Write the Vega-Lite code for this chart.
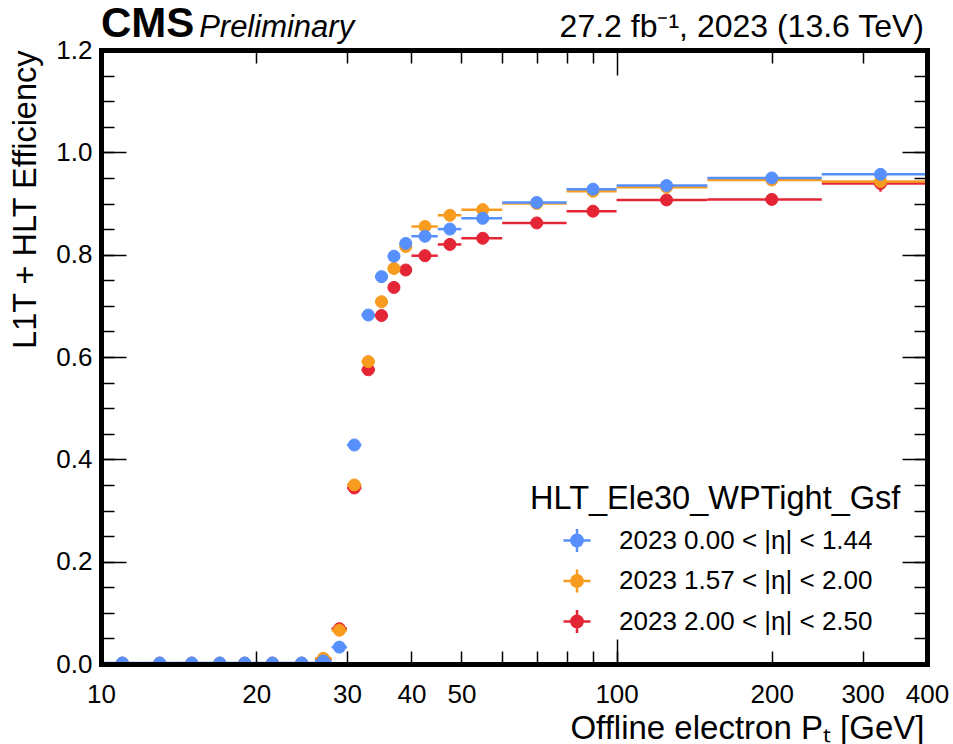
{
  "$schema": "https://vega.github.io/schema/vega-lite/v6.json",
  "width": 826,
  "height": 614,
  "autosize": "none",
  "padding": {"left": 101, "top": 50, "right": 26, "bottom": 80},
  "background": "white",
  "config": {
    "font": "Liberation Sans",
    "view": {"stroke": null},
    "axis": {"grid": false, "tickColor": "black", "tickWidth": 1.5, "labelColor": "black", "titleColor": "black", "domainColor": "black"},
    "legend": {"orient": "none", "legendX": 429, "legendY": 433, "titleFontSize": 32.5, "titleFontWeight": "normal", "titleColor": "black", "titleLimit": 600, "titlePadding": 10,
      "labelFontSize": 26, "labelColor": "black", "labelLimit": 500, "labelOffset": 27, "symbolOffset": 32, "rowPadding": 6.5,
      "symbolType": "M-1,0H1M0,-0.85V0.85M0.42,0A0.42,0.42,0,1,1,-0.42,0A0.42,0.42,0,1,1,0.42,0Z", "symbolSize": 729, "symbolStrokeWidth": 2.5}
  },
  "datasets": {
    "pts": [
      {"s": "2023 2.00 < |η| < 2.50", "lo": 10, "hi": 12, "x": 11, "y": 0.0015},
      {"s": "2023 2.00 < |η| < 2.50", "lo": 12, "hi": 14, "x": 13, "y": 0.0015},
      {"s": "2023 2.00 < |η| < 2.50", "lo": 14, "hi": 16, "x": 15, "y": 0.0015},
      {"s": "2023 2.00 < |η| < 2.50", "lo": 16, "hi": 18, "x": 17, "y": 0.0015},
      {"s": "2023 2.00 < |η| < 2.50", "lo": 18, "hi": 20, "x": 19, "y": 0.0015},
      {"s": "2023 2.00 < |η| < 2.50", "lo": 20, "hi": 23, "x": 21.5, "y": 0.0015},
      {"s": "2023 2.00 < |η| < 2.50", "lo": 23, "hi": 26, "x": 24.5, "y": 0.0015},
      {"s": "2023 2.00 < |η| < 2.50", "lo": 26, "hi": 28, "x": 27, "y": 0.010},
      {"s": "2023 2.00 < |η| < 2.50", "lo": 28, "hi": 30, "x": 29, "y": 0.069},
      {"s": "2023 2.00 < |η| < 2.50", "lo": 30, "hi": 32, "x": 31, "y": 0.344},
      {"s": "2023 2.00 < |η| < 2.50", "lo": 32, "hi": 34, "x": 33, "y": 0.575},
      {"s": "2023 2.00 < |η| < 2.50", "lo": 34, "hi": 36, "x": 35, "y": 0.681},
      {"s": "2023 2.00 < |η| < 2.50", "lo": 36, "hi": 38, "x": 37, "y": 0.736},
      {"s": "2023 2.00 < |η| < 2.50", "lo": 38, "hi": 40, "x": 39, "y": 0.770},
      {"s": "2023 2.00 < |η| < 2.50", "lo": 40, "hi": 45, "x": 42.5, "y": 0.798},
      {"s": "2023 2.00 < |η| < 2.50", "lo": 45, "hi": 50, "x": 47.5, "y": 0.820},
      {"s": "2023 2.00 < |η| < 2.50", "lo": 50, "hi": 60, "x": 55, "y": 0.832},
      {"s": "2023 2.00 < |η| < 2.50", "lo": 60, "hi": 80, "x": 70, "y": 0.862},
      {"s": "2023 2.00 < |η| < 2.50", "lo": 80, "hi": 100, "x": 90, "y": 0.885},
      {"s": "2023 2.00 < |η| < 2.50", "lo": 100, "hi": 150, "x": 125, "y": 0.907},
      {"s": "2023 2.00 < |η| < 2.50", "lo": 150, "hi": 250, "x": 200, "y": 0.908},
      {"s": "2023 2.00 < |η| < 2.50", "lo": 250, "hi": 400, "x": 325, "y": 0.939, "elo": 0.923, "ehi": 0.955},
      {"s": "2023 1.57 < |η| < 2.00", "lo": 10, "hi": 12, "x": 11, "y": 0.0015},
      {"s": "2023 1.57 < |η| < 2.00", "lo": 12, "hi": 14, "x": 13, "y": 0.0015},
      {"s": "2023 1.57 < |η| < 2.00", "lo": 14, "hi": 16, "x": 15, "y": 0.0015},
      {"s": "2023 1.57 < |η| < 2.00", "lo": 16, "hi": 18, "x": 17, "y": 0.0015},
      {"s": "2023 1.57 < |η| < 2.00", "lo": 18, "hi": 20, "x": 19, "y": 0.0015},
      {"s": "2023 1.57 < |η| < 2.00", "lo": 20, "hi": 23, "x": 21.5, "y": 0.0015},
      {"s": "2023 1.57 < |η| < 2.00", "lo": 23, "hi": 26, "x": 24.5, "y": 0.0015},
      {"s": "2023 1.57 < |η| < 2.00", "lo": 26, "hi": 28, "x": 27, "y": 0.011},
      {"s": "2023 1.57 < |η| < 2.00", "lo": 28, "hi": 30, "x": 29, "y": 0.066},
      {"s": "2023 1.57 < |η| < 2.00", "lo": 30, "hi": 32, "x": 31, "y": 0.350},
      {"s": "2023 1.57 < |η| < 2.00", "lo": 32, "hi": 34, "x": 33, "y": 0.591},
      {"s": "2023 1.57 < |η| < 2.00", "lo": 34, "hi": 36, "x": 35, "y": 0.708},
      {"s": "2023 1.57 < |η| < 2.00", "lo": 36, "hi": 38, "x": 37, "y": 0.773},
      {"s": "2023 1.57 < |η| < 2.00", "lo": 38, "hi": 40, "x": 39, "y": 0.816},
      {"s": "2023 1.57 < |η| < 2.00", "lo": 40, "hi": 45, "x": 42.5, "y": 0.855},
      {"s": "2023 1.57 < |η| < 2.00", "lo": 45, "hi": 50, "x": 47.5, "y": 0.877},
      {"s": "2023 1.57 < |η| < 2.00", "lo": 50, "hi": 60, "x": 55, "y": 0.888},
      {"s": "2023 1.57 < |η| < 2.00", "lo": 60, "hi": 80, "x": 70, "y": 0.900},
      {"s": "2023 1.57 < |η| < 2.00", "lo": 80, "hi": 100, "x": 90, "y": 0.924},
      {"s": "2023 1.57 < |η| < 2.00", "lo": 100, "hi": 150, "x": 125, "y": 0.932},
      {"s": "2023 1.57 < |η| < 2.00", "lo": 150, "hi": 250, "x": 200, "y": 0.946},
      {"s": "2023 1.57 < |η| < 2.00", "lo": 250, "hi": 400, "x": 325, "y": 0.943, "elo": 0.935, "ehi": 0.951},
      {"s": "2023 0.00 < |η| < 1.44", "lo": 10, "hi": 12, "x": 11, "y": 0.002},
      {"s": "2023 0.00 < |η| < 1.44", "lo": 12, "hi": 14, "x": 13, "y": 0.002},
      {"s": "2023 0.00 < |η| < 1.44", "lo": 14, "hi": 16, "x": 15, "y": 0.002},
      {"s": "2023 0.00 < |η| < 1.44", "lo": 16, "hi": 18, "x": 17, "y": 0.002},
      {"s": "2023 0.00 < |η| < 1.44", "lo": 18, "hi": 20, "x": 19, "y": 0.002},
      {"s": "2023 0.00 < |η| < 1.44", "lo": 20, "hi": 23, "x": 21.5, "y": 0.002},
      {"s": "2023 0.00 < |η| < 1.44", "lo": 23, "hi": 26, "x": 24.5, "y": 0.002},
      {"s": "2023 0.00 < |η| < 1.44", "lo": 26, "hi": 28, "x": 27, "y": 0.006},
      {"s": "2023 0.00 < |η| < 1.44", "lo": 28, "hi": 30, "x": 29, "y": 0.033},
      {"s": "2023 0.00 < |η| < 1.44", "lo": 30, "hi": 32, "x": 31, "y": 0.428},
      {"s": "2023 0.00 < |η| < 1.44", "lo": 32, "hi": 34, "x": 33, "y": 0.682},
      {"s": "2023 0.00 < |η| < 1.44", "lo": 34, "hi": 36, "x": 35, "y": 0.757},
      {"s": "2023 0.00 < |η| < 1.44", "lo": 36, "hi": 38, "x": 37, "y": 0.797},
      {"s": "2023 0.00 < |η| < 1.44", "lo": 38, "hi": 40, "x": 39, "y": 0.822},
      {"s": "2023 0.00 < |η| < 1.44", "lo": 40, "hi": 45, "x": 42.5, "y": 0.836},
      {"s": "2023 0.00 < |η| < 1.44", "lo": 45, "hi": 50, "x": 47.5, "y": 0.850},
      {"s": "2023 0.00 < |η| < 1.44", "lo": 50, "hi": 60, "x": 55, "y": 0.871},
      {"s": "2023 0.00 < |η| < 1.44", "lo": 60, "hi": 80, "x": 70, "y": 0.902},
      {"s": "2023 0.00 < |η| < 1.44", "lo": 80, "hi": 100, "x": 90, "y": 0.928},
      {"s": "2023 0.00 < |η| < 1.44", "lo": 100, "hi": 150, "x": 125, "y": 0.935},
      {"s": "2023 0.00 < |η| < 1.44", "lo": 150, "hi": 250, "x": 200, "y": 0.950},
      {"s": "2023 0.00 < |η| < 1.44", "lo": 250, "hi": 400, "x": 325, "y": 0.957}
    ]
  },
  "data": {"name": "pts"},
  "resolve": {"axis": {"x": "independent", "y": "independent"}},
  "layer": [
    {
      "mark": {"type": "rule", "strokeWidth": 2.5, "clip": true},
      "encoding": {
        "x": {"field": "lo", "type": "quantitative", "scale": {"type": "log", "domain": [10, 400], "nice": false}, "axis": null},
        "x2": {"field": "hi"},
        "y": {"field": "y", "type": "quantitative", "scale": {"domain": [0, 1.2], "nice": false, "zero": false}, "axis": null},
        "stroke": {"field": "s", "type": "nominal", "scale": {"domain": ["2023 0.00 < |η| < 1.44", "2023 1.57 < |η| < 2.00", "2023 2.00 < |η| < 2.50"], "range": ["#5790fc", "#f89c20", "#e42536"]}, "title": "HLT_Ele30_WPTight_Gsf"}
      }
    },
    {
      "transform": [{"filter": "isValid(datum.elo)"}],
      "mark": {"type": "rule", "strokeWidth": 2.5, "clip": true},
      "encoding": {
        "x": {"field": "x", "type": "quantitative", "scale": {"type": "log", "domain": [10, 400], "nice": false}, "axis": null},
        "y": {"field": "elo", "type": "quantitative", "scale": {"domain": [0, 1.2], "nice": false, "zero": false}, "axis": null},
        "y2": {"field": "ehi"},
        "stroke": {"field": "s", "type": "nominal", "scale": {"domain": ["2023 0.00 < |η| < 1.44", "2023 1.57 < |η| < 2.00", "2023 2.00 < |η| < 2.50"], "range": ["#5790fc", "#f89c20", "#e42536"]}, "title": "HLT_Ele30_WPTight_Gsf"}
      }
    },
    {
      "mark": {"type": "point", "shape": "circle", "filled": true, "opacity": 1, "size": 145, "strokeWidth": 1, "clip": true},
      "encoding": {
        "x": {
          "field": "x", "type": "quantitative",
          "scale": {"type": "log", "domain": [10, 400], "nice": false},
          "axis": {
            "orient": "bottom",
            "values": [10, 20, 30, 40, 50, 60, 70, 80, 90, 100, 200, 300, 400],
            "labelExpr": "indexof([60, 70, 80, 90], datum.value) >= 0 ? '' : format(datum.value, 'd')",
            "tickSize": -13, "labelPadding": 30, "labelFontSize": 26, "labelFlush": false, "labelOverlap": false, "labelBound": false,
            "domain": true, "domainWidth": 5, "domainCap": "square", "zindex": 1,
            "title": "Offline electron Pₜ [GeV]", "titleFontSize": 33, "titleFontWeight": "normal",
            "titleAnchor": "end", "titleAlign": "right", "titleBaseline": "alphabetic", "titleX": 823, "titleY": 74
          }
        },
        "y": {
          "field": "y", "type": "quantitative",
          "scale": {"domain": [0, 1.2], "nice": false, "zero": false},
          "axis": {
            "orient": "left",
            "values": [0, 0.05, 0.1, 0.15, 0.2, 0.25, 0.3, 0.35, 0.4, 0.45, 0.5, 0.55, 0.6, 0.65, 0.7, 0.75, 0.8, 0.85, 0.9, 0.95, 1, 1.05, 1.1, 1.15, 1.2],
            "labelExpr": "abs(datum.value * 5 - round(datum.value * 5)) < 0.001 ? format(datum.value, '.1f') : ''",
            "tickSize": -13, "labelPadding": 22, "labelFontSize": 26, "labelFlush": false, "labelOverlap": false, "labelBound": false,
            "domain": true, "domainWidth": 5, "domainCap": "square", "zindex": 1,
            "title": "L1T + HLT Efficiency", "titleFontSize": 32.5, "titleFontWeight": "normal",
            "titleAngle": -90, "titleAnchor": "end", "titleAlign": "right", "titleBaseline": "alphabetic", "titleX": -66, "titleY": 0
          }
        },
        "fill": {"field": "s", "type": "nominal", "scale": {"domain": ["2023 0.00 < |η| < 1.44", "2023 1.57 < |η| < 2.00", "2023 2.00 < |η| < 2.50"], "range": ["#5790fc", "#f89c20", "#e42536"]}, "title": "HLT_Ele30_WPTight_Gsf"},
        "stroke": {"field": "s", "type": "nominal", "scale": {"domain": ["2023 0.00 < |η| < 1.44", "2023 1.57 < |η| < 2.00", "2023 2.00 < |η| < 2.50"], "range": ["#5790fc", "#f89c20", "#e42536"]}, "title": "HLT_Ele30_WPTight_Gsf"}
      }
    },
    {
      "mark": {"type": "point", "opacity": 0},
      "encoding": {
        "x": {"field": "x", "type": "quantitative", "scale": {"type": "log", "domain": [10, 400], "nice": false},
          "axis": {"orient": "bottom", "values": [10, 100], "tickSize": -25, "labels": false, "domain": false, "title": null, "zindex": 1}},
        "y": {"field": "y", "type": "quantitative", "scale": {"domain": [0, 1.2], "nice": false, "zero": false},
          "axis": {"orient": "left", "values": [0, 0.2, 0.4, 0.6, 0.8, 1, 1.2], "tickSize": -25, "labels": false, "domain": false, "title": null, "zindex": 1}}
      }
    },
    {
      "mark": {"type": "point", "opacity": 0},
      "encoding": {
        "x": {"field": "x", "type": "quantitative", "scale": {"type": "log", "domain": [10, 400], "nice": false},
          "axis": {"orient": "top", "values": [20, 30, 40, 50, 60, 70, 80, 90, 200, 300, 400], "tickSize": -13, "labels": false, "domain": true, "domainWidth": 5, "domainCap": "square", "title": null, "zindex": 1}},
        "y": {"field": "y", "type": "quantitative", "scale": {"domain": [0, 1.2], "nice": false, "zero": false},
          "axis": {"orient": "right", "values": [0, 0.05, 0.1, 0.15, 0.2, 0.25, 0.3, 0.35, 0.4, 0.45, 0.5, 0.55, 0.6, 0.65, 0.7, 0.75, 0.8, 0.85, 0.9, 0.95, 1, 1.05, 1.1, 1.15, 1.2], "tickSize": -13, "labels": false, "domain": true, "domainWidth": 5, "domainCap": "square", "title": null, "zindex": 1}}
      }
    },
    {
      "mark": {"type": "point", "opacity": 0},
      "encoding": {
        "x": {"field": "x", "type": "quantitative", "scale": {"type": "log", "domain": [10, 400], "nice": false},
          "axis": {"orient": "top", "values": [10, 100], "tickSize": -25, "labels": false, "domain": false, "title": null, "zindex": 1}},
        "y": {"field": "y", "type": "quantitative", "scale": {"domain": [0, 1.2], "nice": false, "zero": false},
          "axis": {"orient": "right", "values": [0, 0.2, 0.4, 0.6, 0.8, 1, 1.2], "tickSize": -25, "labels": false, "domain": false, "title": null, "zindex": 1}}
      }
    },
    {
      "data": {"values": [{"t": "CMS"}]},
      "mark": {"type": "text", "align": "left", "baseline": "alphabetic", "fontSize": 42, "fontWeight": "bold", "dy": -13, "color": "black"},
      "encoding": {
        "x": {"datum": 10, "type": "quantitative", "scale": {"type": "log", "domain": [10, 400], "nice": false}, "axis": null},
        "y": {"datum": 1.2, "type": "quantitative", "scale": {"domain": [0, 1.2], "nice": false, "zero": false}, "axis": null},
        "text": {"field": "t"}
      }
    },
    {
      "data": {"values": [{"t": "Preliminary"}]},
      "mark": {"type": "text", "align": "left", "baseline": "alphabetic", "fontSize": 31, "fontStyle": "italic", "dy": -13, "color": "black"},
      "encoding": {
        "x": {"datum": 15.5, "type": "quantitative", "scale": {"type": "log", "domain": [10, 400], "nice": false}, "axis": null},
        "y": {"datum": 1.2, "type": "quantitative", "scale": {"domain": [0, 1.2], "nice": false, "zero": false}, "axis": null},
        "text": {"field": "t"}
      }
    },
    {
      "data": {"values": [{"t": "27.2 fb⁻¹, 2023 (13.6 TeV)"}]},
      "mark": {"type": "text", "align": "right", "baseline": "alphabetic", "fontSize": 32, "dy": -13, "dx": -3, "color": "black"},
      "encoding": {
        "x": {"datum": 400, "type": "quantitative", "scale": {"type": "log", "domain": [10, 400], "nice": false}, "axis": null},
        "y": {"datum": 1.2, "type": "quantitative", "scale": {"domain": [0, 1.2], "nice": false, "zero": false}, "axis": null},
        "text": {"field": "t"}
      }
    }
  ]
}
